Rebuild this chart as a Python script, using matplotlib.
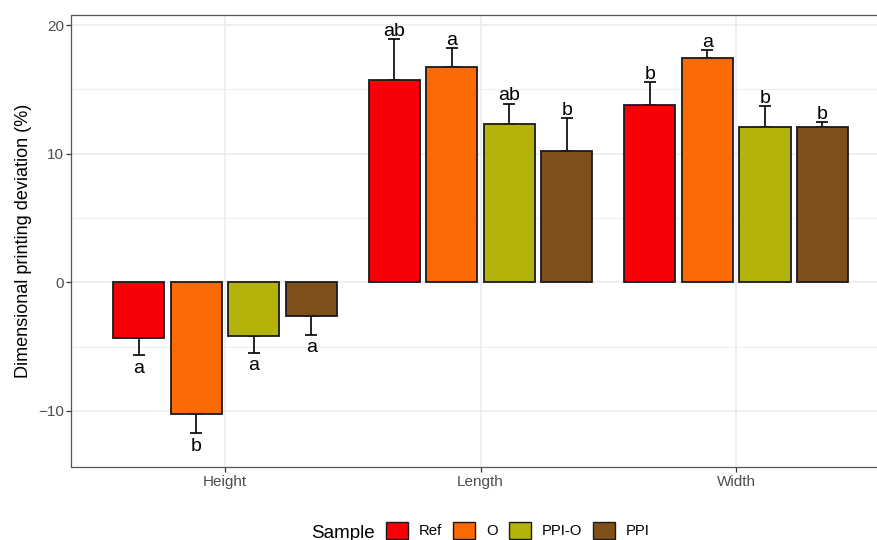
import numpy as np
import matplotlib
matplotlib.use("Agg")
import matplotlib.pyplot as plt
from matplotlib.patches import Patch
from matplotlib.ticker import MultipleLocator

plt.rcParams['font.family'] = ['Liberation Sans', 'DejaVu Sans']

# Mean dimensional deviation (%) and SD per dimension, one list per sample
dimensions = ["Height", "Length", "Width"]
samples = ["Ref", "O", "PPI-O", "PPI"]
sample_colors = ["#F90008", "#FB6A05", "#B3B30B", "#80501A"]

ref_mean = [-4.34, 15.74, 13.80]
o_mean = [-10.25, 16.75, 17.43]
ppio_mean = [-4.20, 12.32, 12.06]
ppi_mean = [-2.65, 10.22, 12.11]

ref_sd = [1.34, 3.17, 1.79]
o_sd = [1.50, 1.46, 0.65]
ppio_sd = [1.28, 1.58, 1.61]
ppi_sd = [1.43, 2.54, 0.36]

# Tukey letters per dimension
ref_letters = ["a", "ab", "b"]
o_letters = ["b", "a", "a"]
ppio_letters = ["a", "ab", "b"]
ppi_letters = ["a", "b", "b"]

means = [ref_mean, o_mean, ppio_mean, ppi_mean]
sds = [ref_sd, o_sd, ppio_sd, ppi_sd]
letters = [ref_letters, o_letters, ppio_letters, ppi_letters]

fig = plt.figure(figsize=(8.78, 5.40), dpi=100)
ax = fig.add_axes([71.5 / 878, 1 - 467.3 / 540, (889.6 - 71.5) / 878, (467.3 - 15) / 540])

x = np.arange(1, len(dimensions) + 1)
dodge = 0.9 / len(samples)
bar_w = 0.8 / len(samples)

for i, (m, s, lab, col) in enumerate(zip(means, sds, letters, sample_colors)):
    m = np.array(m)
    s = np.array(s)
    pos = x + (i - 1.5) * dodge
    # error bars only on the outer side of each bar
    lower = np.where(m < 0, s, 0)
    upper = np.where(m >= 0, s, 0)
    ax.errorbar(pos, m, yerr=[lower, upper], fmt='none', ecolor='black',
                elinewidth=1.2, capsize=4.3, capthick=1.2, zorder=2)
    ax.bar(pos, m, width=bar_w, color=col, edgecolor='#1a1a1a',
           linewidth=1.3, zorder=3)
    for px, mv, sv, t in zip(pos, m, s, lab):
        if mv >= 0:
            ax.text(px, mv + sv + 0.25, t, ha='center', va='baseline',
                    fontsize=14, color='black', zorder=4)
        else:
            ax.text(px, mv - sv - 1.36, t, ha='center', va='baseline',
                    fontsize=14, color='black', zorder=4)

ax.set_xlim(0.4, 3.6)
ax.set_ylim(-14.38, 20.78)
ax.set_xticks(x)
ax.set_xticklabels(dimensions)
ax.yaxis.set_major_locator(MultipleLocator(10))
ax.yaxis.set_minor_locator(MultipleLocator(5))
ax.xaxis.set_minor_locator(plt.NullLocator())

ax.grid(which='major', color='#EBEBEB', linewidth=1.1, zorder=0)
ax.grid(which='minor', axis='y', color='#EBEBEB', linewidth=0.6, zorder=0)
ax.set_axisbelow(True)

for sp in ax.spines.values():
    sp.set_color('#555555')
    sp.set_linewidth(0.9)

ax.tick_params(axis='both', which='major', colors='#333333', labelcolor='#4D4D4D',
               labelsize=11, length=3.5, width=0.9, pad=2)
ax.tick_params(axis='y', which='minor', length=0)
ax.set_ylabel("Dimensional printing deviation (%)", fontsize=13, color='black', labelpad=4)

handles = [Patch(facecolor=c, edgecolor='#1a1a1a', linewidth=1.0) for c in sample_colors]
fig.legend(handles, samples, loc='upper left', bbox_to_anchor=(386 / 878, 1 - 521.5 / 540),
           ncol=4, frameon=False, fontsize=10.7, handlelength=1.48, handleheight=1.48,
           handletextpad=0.74, columnspacing=0.74, borderpad=0, borderaxespad=0)
fig.text(310.7 / 878, 1 - 533 / 540, "Sample", fontsize=13.5, ha='left', va='center')

fig.savefig("out.png", dpi=100)
